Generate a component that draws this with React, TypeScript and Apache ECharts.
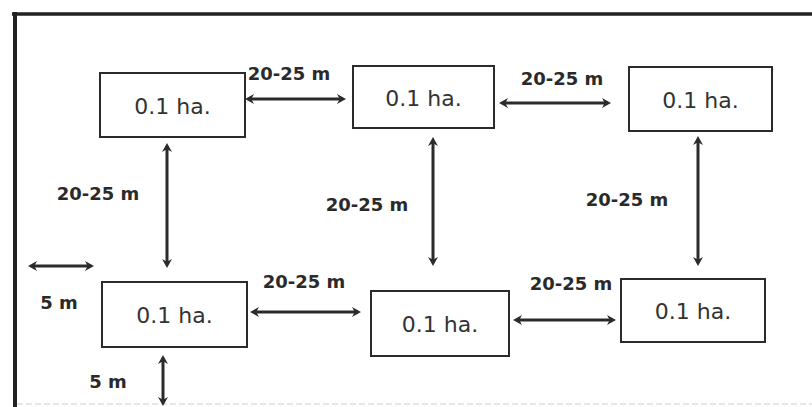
import React, { useEffect, useRef } from "react";
import * as echarts from "echarts";

// Content
const plotLabel = "0.1 ha.";
const spacingLabel = "20-25 m";
const borderLabel = "5 m";
const plotCount = 6;

// Layout (pixels)
const boxRects: [number, number, number, number][] = [
  [100, 73, 145, 64],
  [353, 66, 141, 62],
  [629, 67, 143, 64],
  [102, 282, 145, 65],
  [371, 291, 138, 65],
  [621, 279, 144, 63],
];
const arrowLines: [number, number, number, number][] = [
  [245, 99, 346, 99],
  [499, 103, 611, 103],
  [167, 143, 167, 268],
  [433, 137, 433, 266],
  [698, 136, 698, 266],
  [28, 266, 94, 266],
  [250, 312, 361, 312],
  [513, 320, 616, 320],
  [163, 355, 163, 406],
];
const labelPos: [number, number, string][] = [
  [289, 73, spacingLabel],
  [562, 78, spacingLabel],
  [98, 193, spacingLabel],
  [367, 204, spacingLabel],
  [627, 199, spacingLabel],
  [59, 302, borderLabel],
  [304, 281, spacingLabel],
  [571, 283, spacingLabel],
  [108, 381, borderLabel],
];

const INK = "#2b2b2b";

function arrowEls(x1: number, y1: number, x2: number, y2: number) {
  const els: any[] = [];
  const dx = x2 - x1, dy = y2 - y1;
  const len = Math.hypot(dx, dy);
  const ux = dx / len, uy = dy / len;
  const px = -uy, py = ux;
  const hl = 9, hw = 5;
  els.push({
    type: "line",
    shape: { x1: x1 + ux * 4, y1: y1 + uy * 4, x2: x2 - ux * 4, y2: y2 - uy * 4 },
    style: { stroke: INK, lineWidth: 3 },
  });
  const head = (tx: number, ty: number, sx: number, sy: number) => ({
    type: "polygon",
    shape: {
      points: [
        [tx, ty],
        [tx - sx * hl + px * hw, ty - sy * hl + py * hw],
        [tx - sx * hl * 0.7, ty - sy * hl * 0.7],
        [tx - sx * hl - px * hw, ty - sy * hl - py * hw],
      ],
    },
    style: { fill: INK },
  });
  els.push(head(x2, y2, ux, uy));
  els.push(head(x1, y1, -ux, -uy));
  return els;
}

export default function App() {
  const ref = useRef<HTMLDivElement>(null);
  useEffect(() => {
    if (!ref.current) return;
    const chart = echarts.init(ref.current, null, { renderer: "svg" });
    const elements: any[] = [];
    // frame
    elements.push({ type: "line", shape: { x1: 12, y1: 14, x2: 812, y2: 14 }, style: { stroke: "#222", lineWidth: 3.5 } });
    elements.push({ type: "line", shape: { x1: 15, y1: 12, x2: 15, y2: 407 }, style: { stroke: "#222", lineWidth: 4 } });
    elements.push({ type: "line", shape: { x1: 17, y1: 404, x2: 812, y2: 404 }, style: { stroke: "#dedede", lineWidth: 1.5, lineDash: [6, 3] } });
    for (let i = 0; i < plotCount; i++) {
      const [x, y, w, h] = boxRects[i];
      elements.push({
        type: "rect",
        shape: { x, y, width: w, height: h },
        style: { fill: "#fff", stroke: INK, lineWidth: 2 },
      });
      elements.push({
        type: "text",
        x: x + w / 2,
        y: y + h / 2 + 1,
        style: {
          text: plotLabel,
          fill: "#333",
          font: "22px 'DejaVu Sans', sans-serif",
          textAlign: "center",
          textVerticalAlign: "middle",
        },
      });
    }
    arrowLines.forEach(([a, b, c, d]) => elements.push(...arrowEls(a, b, c, d)));
    labelPos.forEach(([x, y, t]) =>
      elements.push({
        type: "text",
        x,
        y,
        style: {
          text: t,
          fill: "#2a2a2a",
          font: "bold 18px 'DejaVu Sans', sans-serif",
          textAlign: "center",
          textVerticalAlign: "middle",
        },
      })
    );
    chart.setOption({
      animation: false,
      backgroundColor: "#ffffff",
      graphic: { elements },
    });
    return () => chart.dispose();
  }, []);
  return <div ref={ref} style={{ width: 812, height: 407, position: "absolute", left: 0, top: 0 }} />;
}
